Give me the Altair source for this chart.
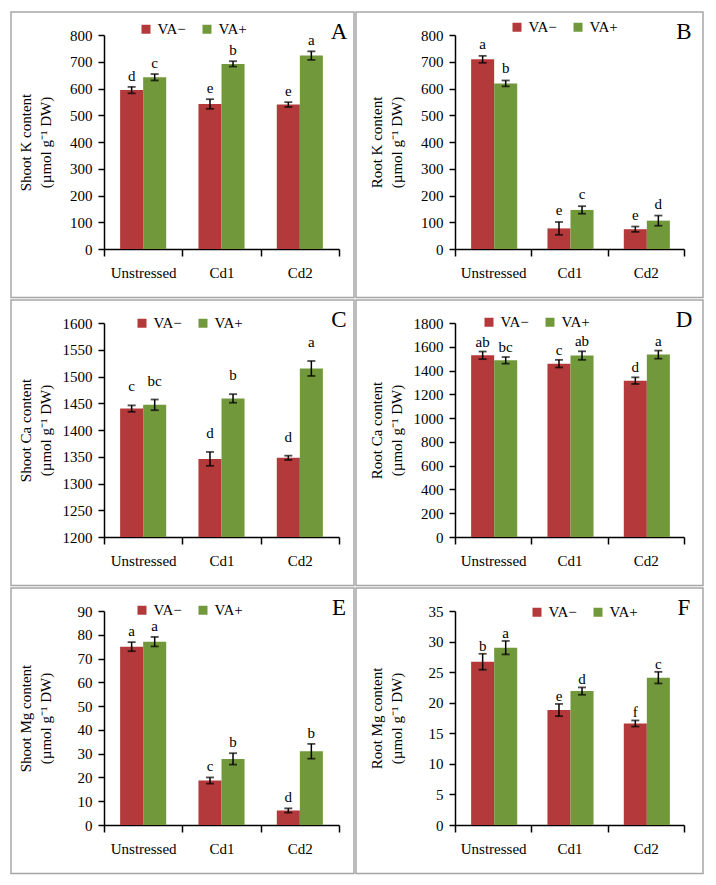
import altair as alt
import pandas as pd

categories = ["Unstressed", "Cd1", "Cd2"]
groups = ["VA−", "VA+"]
colors = ["#b3393a", "#71983b"]

# order: Unstressed VA-, Unstressed VA+, Cd1 VA-, Cd1 VA+, Cd2 VA-, Cd2 VA+
shoot_k = [594, 642, 542, 692, 540, 723]
shoot_k_err = [12, 12, 18, 10, 9, 16]
shoot_k_let = ["d", "c", "e", "b", "e", "a"]

root_k = [709, 619, 77, 146, 74, 106]
root_k_err = [13, 11, 24, 14, 10, 19]
root_k_let = ["a", "b", "e", "c", "e", "d"]

shoot_ca = [1440, 1447, 1346, 1459, 1348, 1515]
shoot_ca_err = [6, 10, 13, 8, 4, 14]
shoot_ca_let = ["c", "bc", "d", "b", "d", "a"]

root_ca = [1528, 1486, 1458, 1526, 1315, 1534]
root_ca_err = [32, 28, 32, 36, 28, 34]
root_ca_let = ["ab", "bc", "c", "ab", "d", "a"]

shoot_mg = [75.0, 77.1, 18.7, 27.8, 6.1, 31.0]
shoot_mg_err = [1.9, 2.0, 1.3, 2.4, 0.9, 3.1]
shoot_mg_let = ["a", "a", "c", "b", "d", "b"]

root_mg = [26.7, 29.0, 18.8, 21.9, 16.6, 24.1]
root_mg_err = [1.3, 1.1, 1.0, 0.6, 0.5, 0.95]
root_mg_let = ["b", "a", "e", "d", "f", "c"]

SERIF = "Liberation Serif"
UNIT = "(µmol g⁻¹ DW)"


def panel(vals, errs, lets, title, ymin, ymax, step, tag, width, lx, ly, dy, rect_l, rect_r):
    df = pd.DataFrame({
        "cat": [c for c in categories for g in groups],
        "grp": [g for c in categories for g in groups],
        "val": vals,
        "err": errs,
        "lab": lets,
    })
    df["lo"] = df["val"] - df["err"]
    df["hi"] = df["val"] + df["err"]
    one = pd.DataFrame({"k": [0]})

    xaxis = alt.Axis(title=None, labelAngle=0, tickBand="extent", tickSize=7, tickWidth=1.5,
                     tickColor="black", domainColor="black", domainWidth=1.5, labelPadding=9,
                     labelFont=SERIF, labelFontSize=15, labelColor="black", grid=False)
    x = alt.X("cat:N", sort=categories,
              scale=alt.Scale(domain=categories, paddingInner=0, paddingOuter=0), axis=xaxis)
    xo = alt.XOffset("grp:N", sort=groups,
                     scale=alt.Scale(domain=groups, paddingInner=0, paddingOuter=0.7))
    ticks = []
    v = ymin
    while v <= ymax + 1e-9:
        ticks.append(v)
        v += step
    yaxis = alt.Axis(values=ticks, format="d", title=[title, UNIT], titleX=-71, titleFont=SERIF,
                     titleFontSize=15, titleFontWeight="normal", titleColor="black",
                     titleLineHeight=20, titleBaseline="bottom",
                     labelFont=SERIF, labelFontSize=15, labelColor="black", labelPadding=6,
                     tickSize=6, tickWidth=1.5, tickColor="black", domainColor="black",
                     domainWidth=1.5, grid=False)
    yscale = alt.Scale(domain=[ymin, ymax], nice=False, zero=False)

    def Y(f):
        return alt.Y(f, scale=yscale, axis=yaxis, title=[title, UNIT])

    base = alt.Chart(df)
    bars = base.mark_bar().encode(
        x=x, xOffset=xo, y=Y("val:Q"), y2=alt.datum(ymin),
        color=alt.Color("grp:N", sort=groups, title=None,
                        scale=alt.Scale(domain=groups, range=colors),
                        legend=alt.Legend(orient="none", legendX=lx, legendY=ly,
                                          direction="horizontal", symbolType="square",
                                          symbolSize=81, symbolStrokeWidth=0, symbolOpacity=1,
                                          labelFont=SERIF, labelFontSize=15, labelColor="black",
                                          columnPadding=13, labelOffset=4, padding=0)),
    )
    rule = base.mark_rule(color="black", strokeWidth=1.5).encode(
        x=x, xOffset=xo, y=Y("lo:Q"), y2="hi:Q")
    tlo = base.mark_tick(color="black", size=8, thickness=1.8).encode(x=x, xOffset=xo, y=Y("lo:Q"))
    thi = base.mark_tick(color="black", size=8, thickness=1.8).encode(x=x, xOffset=xo, y=Y("hi:Q"))
    txt = base.mark_text(baseline="bottom", dy=dy, font=SERIF, fontSize=15, color="black").encode(
        x=x, xOffset=xo, y=Y("hi:Q"), text="lab:N")
    tagm = alt.Chart(one).mark_text(text=tag, font=SERIF, fontSize=23, color="black",
                                    align="center", baseline="middle").encode(
        x=alt.value(width), y=alt.value(-3))
    frame = alt.Chart(one).mark_rect(fillOpacity=0, stroke="#a6a6a6", strokeWidth=1.5).encode(
        x=alt.value(rect_l), x2=alt.value(rect_r), y=alt.value(-23), y2=alt.value(262.5))
    return alt.layer(bars, rule, tlo, thi, txt, tagm, frame).properties(width=width, height=214)


LW, RW = 235, 229
pA = panel(shoot_k, shoot_k_err, shoot_k_let, "Shoot K content", 0, 800, 100, "A", LW, 34.5, -13.5, -3, -93, 250)
pB = panel(root_k, root_k_err, root_k_let, "Root K content", 0, 800, 100, "B", RW, 54.5, -15.5, -4, -99, 248)
pC = panel(shoot_ca, shoot_ca_err, shoot_ca_let, "Shoot Ca content", 1200, 1600, 50, "C", LW, 30.5, -7.5, -11, -93, 250)
pD = panel(root_ca, root_ca_err, root_ca_let, "Root Ca content", 0, 1800, 200, "D", RW, 26.5, -8.5, -2, -99, 248)
pE = panel(shoot_mg, shoot_mg_err, shoot_mg_let, "Shoot Mg content", 0, 90, 10, "E", LW, 30.5, -8.5, -3, -93, 250)
pF = panel(root_mg, root_mg_err, root_mg_let, "Root Mg content", 0, 35, 5, "F", RW, 74.5, -6.5, 0, -99, 248)

def row(a, b):
    return alt.hconcat(a, b, spacing=0).resolve_scale(color="independent").resolve_legend(color="independent")

chart = alt.vconcat(row(pA, pB), row(pC, pD), row(pE, pF), spacing=0).resolve_scale(
    color="independent").resolve_legend(color="independent").properties(
    padding={"left": 2, "top": 3, "right": 2, "bottom": 2}
).configure_view(strokeWidth=0)

chart.save("out.html", embed_options={"renderer": "svg", "actions": False})
